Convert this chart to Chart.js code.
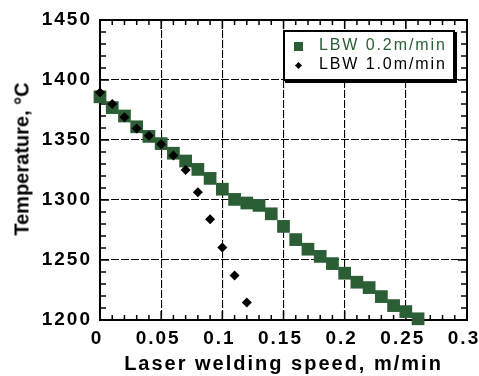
<!DOCTYPE html>
<html>
<head>
<meta charset="utf-8">
<script src="https://cdn.jsdelivr.net/npm/chart.js@4/dist/chart.umd.min.js"></script>
<style>
    html, body { margin: 0; padding: 0; background: #fff; }
    #wrap { position: relative; width: 479px; height: 376px; }
    #yTitle {
        position: absolute; left: 22px; top: 159px;
        transform: translate(-50%, -50%) rotate(-90deg);
        font: bold 20px 'Liberation Sans', Arial, sans-serif;
        white-space: nowrap; color: #000;
    }
    #legendBox {
        position: absolute; left: 283px; top: 30px; width: 172px; height: 51px;
        box-sizing: border-box; border: 2px solid #000; box-shadow: 2px 2px 0 #000;
        background: #fff;
    }
    .legRow {
        position: absolute; left: 34px; height: 20px; line-height: 20px;
        font: 16px 'Liberation Sans', Arial, sans-serif; letter-spacing: 1.9px;
        white-space: nowrap;
    }
    .legMark { position: absolute; }
</style>
</head>
<body>
<div id="wrap">
    <canvas id="tempChart" width="479" height="376"></canvas>
    <div id="yTitle"></div>
    <div id="legendBox"></div>
</div>
<script>
// data
const speed02 = [0, 0.01, 0.02, 0.03, 0.04, 0.05, 0.06, 0.07, 0.08, 0.09, 0.10, 0.11, 0.12, 0.13,
    0.14, 0.15, 0.16, 0.17, 0.18, 0.19, 0.20, 0.21, 0.22, 0.23, 0.24, 0.25, 0.26];
const temp02 = [1386, 1377, 1370, 1361, 1353, 1347, 1339, 1332.5, 1325.5, 1318, 1309, 1300.5, 1297.5, 1295.5,
    1288.5, 1278, 1267, 1259, 1253, 1247, 1239, 1231.5, 1227, 1219.5, 1212, 1207, 1201];
const speed10 = [0, 0.01, 0.02, 0.03, 0.04, 0.05, 0.06, 0.07, 0.08, 0.09, 0.10, 0.11, 0.12];
const temp10 = [1389.5, 1380, 1369, 1359.5, 1353.5, 1346.5, 1337, 1325, 1306.5, 1284, 1260.5, 1237, 1214.5];
const seriesLabels = ['LBW 0.2m/min', 'LBW 1.0m/min'];
const seriesColors = ['#2b5e35', '#000000'];
const xTicks = [0, 0.05, 0.1, 0.15, 0.2, 0.25, 0.3];
const yTicks = [1200, 1250, 1300, 1350, 1400, 1450];
const xTitle = 'Laser welding speed, m/min';
const yTitle = 'Temperature, \u00B0C';

function toPoints(xs, ys) {
    let pts = [];
    for (let i = 0; i < xs.length; i++) {
        pts.push({x: xs[i], y: ys[i]});
    }
    return pts;
}

// canvas text in the figure is widely spaced
const spacingPlugin = {
    id: 'spacing',
    beforeLayout: function (chart) { chart.ctx.letterSpacing = '2px'; },
    beforeDraw: function (chart) { chart.ctx.letterSpacing = '2px'; }
};

// frame + inward minor/major ticks on all four sides
const frameTicks = {
    id: 'frameTicks',
    beforeDatasetsDraw: function (chart) {
        const c = chart.ctx;
        const a = chart.chartArea;
        const xs = chart.scales.x, ys = chart.scales.y;
        c.save();
        c.strokeStyle = '#000';
        c.lineWidth = 1.5;
        c.beginPath();
        for (let i = 0; i <= 30; i++) {
            let px = xs.getPixelForValue(i / 100);
            let len = (i % 5 === 0) ? 9 : 5;
            c.moveTo(px, a.bottom); c.lineTo(px, a.bottom - len);
            c.moveTo(px, a.top); c.lineTo(px, a.top + len);
        }
        for (let v = 1200; v <= 1450; v += 10) {
            let py = ys.getPixelForValue(v);
            let len = (v % 50 === 0) ? 9 : 6;
            c.moveTo(a.left, py); c.lineTo(a.left + len, py);
            c.moveTo(a.right, py); c.lineTo(a.right - len, py);
        }
        c.stroke();
        c.lineWidth = 2;
        c.strokeRect(a.left, a.top, a.right - a.left, a.bottom - a.top);
        c.restore();
    }
};

const dataForGraph = {
    datasets: [
        {
            label: seriesLabels[0],
            data: toPoints(speed02, temp02),
            pointStyle: 'rect',
            pointRadius: 9,
            pointHoverRadius: 9,
            borderWidth: 0,
            backgroundColor: seriesColors[0],
            borderColor: seriesColors[0],
            clip: false,
            order: 2
        },
        {
            label: seriesLabels[1],
            data: toPoints(speed10, temp10),
            pointStyle: 'rectRot',
            pointRadius: 5,
            pointHoverRadius: 5,
            borderWidth: 0,
            backgroundColor: seriesColors[1],
            borderColor: seriesColors[1],
            clip: false,
            order: 1
        }
    ]
};

const gridStyle = {
    color: '#000',
    lineWidth: 1.1,
    drawTicks: false
};

const config = {
    type: 'scatter',
    data: dataForGraph,
    plugins: [spacingPlugin, frameTicks],
    options: {
        responsive: false,
        animation: false,
        devicePixelRatio: 1,
        layout: {
            padding: {top: 20, right: 12, left: 0, bottom: 0}
        },
        plugins: {
            legend: {display: false},
            tooltip: {enabled: false}
        },
        scales: {
            x: {
                type: 'linear',
                min: 0,
                max: 0.3,
                afterBuildTicks: function (scale) {
                    scale.ticks = xTicks.map(function (v) { return {value: v}; });
                },
                afterFit: function (scale) {
                    scale.height = 56;
                    scale.paddingLeft = 0;
                    scale.paddingRight = 0;
                },
                grid: gridStyle,
                border: {display: true, color: '#000', width: 2, dash: [8, 2]},
                ticks: {
                    color: '#000',
                    padding: 7,
                    labelOffset: -3,
                    autoSkip: false,
                    maxRotation: 0,
                    font: {family: 'Liberation Sans', size: 19, weight: 'bold'},
                    callback: function (v) { return String(Math.round(v * 100) / 100); }
                },
                title: {
                    display: true,
                    text: xTitle,
                    color: '#000',
                    padding: {top: 0, bottom: 0},
                    font: {family: 'Liberation Sans', size: 20, weight: 'bold'}
                }
            },
            y: {
                type: 'linear',
                min: 1200,
                max: 1450,
                afterBuildTicks: function (scale) {
                    scale.ticks = yTicks.map(function (v) { return {value: v}; });
                },
                afterFit: function (scale) {
                    scale.width = 100;
                },
                grid: gridStyle,
                border: {display: true, color: '#000', width: 2, dash: [8, 2]},
                ticks: {
                    color: '#000',
                    padding: 8,
                    font: {family: 'Liberation Sans', size: 19, weight: 'bold'},
                    callback: function (v) { return String(v); }
                }
            }
        }
    }
};

let ctx = document.getElementById('tempChart');
let myTempChart = new Chart(ctx, config);

// axis title and legend as html text
document.getElementById('yTitle').textContent = yTitle;
const legendBox = document.getElementById('legendBox');
const rowCenters = [14, 33];
for (let i = 0; i < seriesLabels.length; i++) {
    let row = document.createElement('div');
    row.className = 'legRow';
    row.style.top = (rowCenters[i] - 10) + 'px';
    row.style.color = seriesColors[i];
    row.textContent = seriesLabels[i];
    legendBox.appendChild(row);

    let mark = document.createElement('div');
    mark.className = 'legMark';
    mark.style.background = seriesColors[i];
    if (i === 0) {
        mark.style.width = '9px'; mark.style.height = '9px';
        mark.style.left = (13 - 4.5) + 'px'; mark.style.top = (rowCenters[i] - 4.5) + 'px';
    } else {
        mark.style.width = '5px'; mark.style.height = '5px';
        mark.style.left = (13 - 2.5) + 'px'; mark.style.top = (rowCenters[i] - 2.5) + 'px';
        mark.style.transform = 'rotate(45deg)';
    }
    legendBox.appendChild(mark);
}
</script>
</body>
</html>
